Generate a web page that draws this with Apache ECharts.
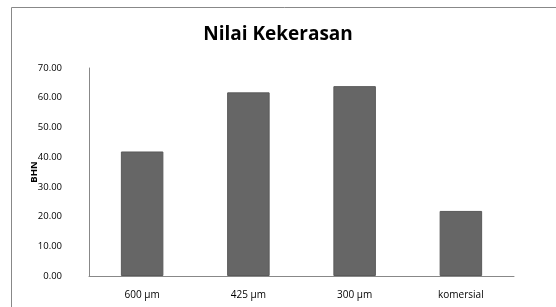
<!DOCTYPE html>
<html>
<head>
<meta charset="utf-8">
<script src="https://cdn.jsdelivr.net/npm/echarts@6/dist/echarts.min.js"></script>
<style>
  html, body { margin: 0; padding: 0; background: #fff; }
  #chart { width: 556px; height: 307px; }
</style>
</head>
<body>
<div id="chart"></div>
<script>
// values
const categories = ['600 µm', '425 µm', '300 µm', 'komersial']
const hardness = [41.9, 61.8, 63.9, 21.9]
const yTicks = [0, 10, 20, 30, 40, 50, 60, 70]

const chart = echarts.init(document.getElementById('chart'))
const option = {
  animation: false,
  textStyle: { fontFamily: 'Open Sans' },
  title: {
    text: 'Nilai Kekerasan',
    left: 'center',
    top: 20,
    textStyle: { fontSize: 19, fontWeight: 'bold', color: '#000', fontFamily: 'Open Sans' }
  },
  // chart-area frame, only left and top edges fall inside the picture
  graphic: [{
    type: 'rect',
    shape: { x: 11.5, y: 7.5, width: 700, height: 400 },
    style: { fill: 'none', stroke: '#888', lineWidth: 1 },
    silent: true
  }],
  grid: { left: 89, right: 42, top: 68, bottom: 31 },
  xAxis: {
    type: 'category',
    data: categories,
    axisLine: { lineStyle: { color: '#888' } },
    axisTick: { show: false },
    axisLabel: { color: '#000', fontSize: 10, margin: 14 }
  },
  yAxis: {
    type: 'value',
    min: yTicks[0],
    max: yTicks[yTicks.length - 1],
    interval: 10,
    name: 'BHN',
    nameLocation: 'middle',
    nameGap: 50,
    nameRotate: 90,
    nameMoveOverlap: false,
    nameTextStyle: { fontSize: 9.5, fontWeight: 'bold', color: '#000' },
    axisLine: { show: true, lineStyle: { color: '#888' } },
    axisTick: { show: false },
    splitLine: { show: false },
    axisLabel: {
      color: '#000',
      fontSize: 9.5,
      margin: 27,
      formatter: v => v.toFixed(2)
    }
  },
  series: [{
    type: 'bar',
    data: hardness,
    barWidth: '40%',
    itemStyle: { color: '#666666', borderColor: '#5a5a5a', borderWidth: 1 }
  }]
}
chart.setOption(option)
</script>
</body>
</html>
